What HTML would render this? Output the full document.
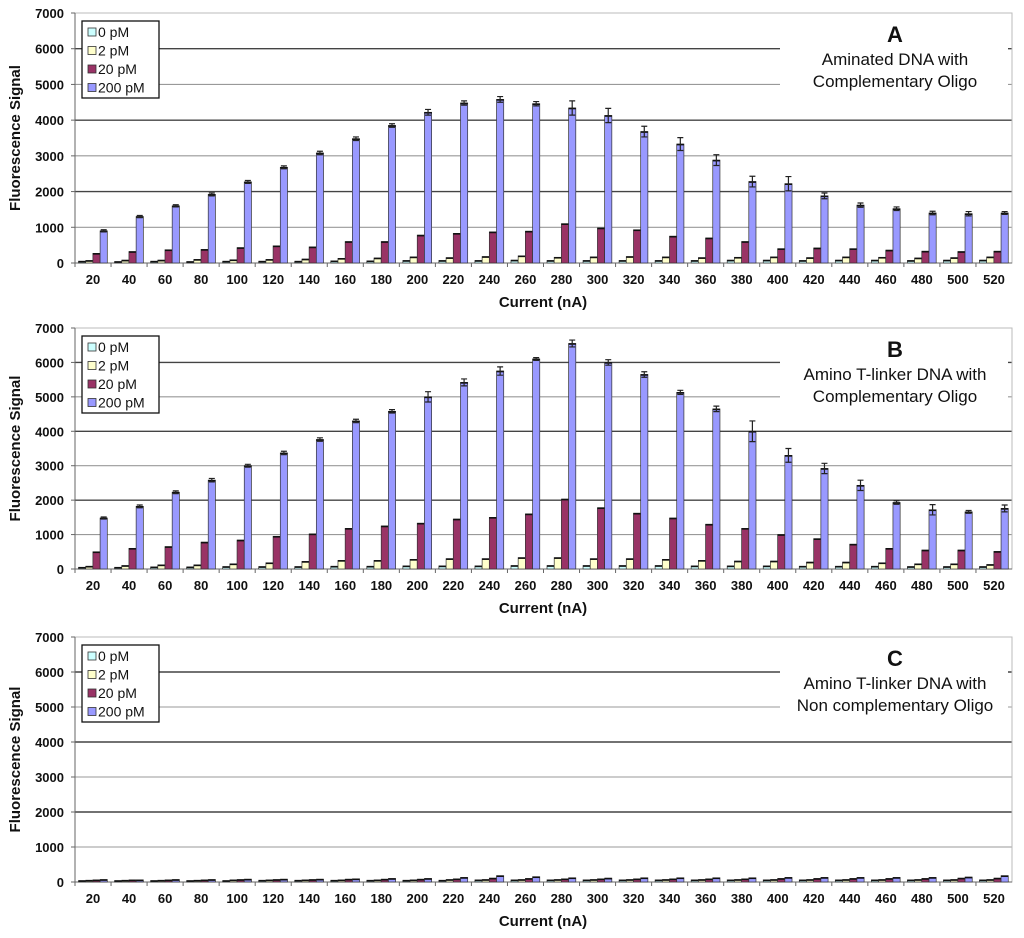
<!DOCTYPE html>
<html><head><meta charset="utf-8"><style>
body{margin:0;background:#fff;}
svg{display:block;font-family:"Liberation Sans",Arial,sans-serif;}
</style></head><body>
<svg id="chart" width="1024" height="938" viewBox="0 0 1024 938"></svg>
<script>
const categories=[20,40,60,80,100,120,140,160,180,200,220,240,260,280,300,320,340,360,380,400,420,440,460,480,500,520];
const seriesNames=["0 pM","2 pM","20 pM","200 pM"];
const yTicks=[0,1000,2000,3000,4000,5000,6000,7000];
// Panel A
const a0=[50,40,50,40,50,50,50,60,60,70,70,70,80,70,70,70,70,70,80,80,70,80,80,70,80,80];
const a2=[70,80,80,100,90,100,110,130,140,170,150,180,200,160,170,180,170,150,160,170,150,170,160,140,150,170];
const a20=[270,320,370,380,430,480,450,600,600,780,830,870,890,1100,980,930,750,700,600,400,420,400,360,330,320,330];
const a200=[900,1300,1600,1920,2270,2680,3080,3480,3850,4220,4480,4580,4460,4340,4130,3680,3330,2880,2280,2220,1880,1620,1520,1400,1380,1400];
const a200err=[30,30,30,40,40,40,50,50,50,80,60,80,60,200,200,150,180,150,150,200,80,60,50,50,60,40];
// Panel B
const b0=[50,50,60,60,70,70,70,80,80,90,90,90,100,100,100,100,100,90,90,90,80,80,80,70,70,70];
const b2=[80,100,120,120,150,180,220,250,250,280,300,300,330,330,300,300,280,250,230,230,200,200,180,150,150,130];
const b20=[500,600,650,780,840,950,1020,1180,1250,1330,1450,1500,1600,2030,1780,1620,1480,1300,1180,1000,880,720,600,550,550,510];
const b200=[1480,1820,2230,2580,3000,3370,3760,4300,4580,5000,5420,5750,6100,6550,6000,5650,5130,4650,4000,3300,2920,2430,1930,1720,1660,1760];
const b200err=[30,40,40,50,40,50,50,50,50,150,100,120,40,100,80,80,60,80,300,200,150,150,50,150,40,100];
// Panel C
const c0=[40,40,40,40,40,50,50,50,50,50,50,60,60,60,60,60,60,60,60,60,60,60,60,60,60,60];
const c2=[50,50,50,50,60,60,60,60,60,60,70,70,70,70,70,70,70,70,70,70,70,70,70,70,70,70];
const c20=[60,60,60,60,70,70,70,80,80,80,90,110,100,90,90,90,90,90,90,100,100,100,100,100,110,110];
const c200=[70,60,70,70,80,80,80,90,100,100,130,180,150,120,110,120,120,120,120,130,130,130,130,130,140,180];

const panels=[
 {id:"a",letter:"A",l1:"Aminated DNA with",l2:"Complementary Oligo",top:13,bot:263,data:[a0,a2,a20,a200],err:a200err},
 {id:"b",letter:"B",l1:"Amino T-linker DNA with",l2:"Complementary Oligo",top:328,bot:569,data:[b0,b2,b20,b200],err:b200err},
 {id:"c",letter:"C",l1:"Amino T-linker DNA with",l2:"Non complementary Oligo",top:637,bot:882,data:[c0,c2,c20,c200],err:null}
];
const colors=["#ccffff","#ffffcc","#993366","#9999ff"];
const X0=75,X1=1012;
const svg=document.getElementById("chart");
const NS="http://www.w3.org/2000/svg";
function mk(tag,attrs,parent){const e=document.createElementNS(NS,tag);for(const k in attrs)e.setAttribute(k,attrs[k]);(parent||svg).appendChild(e);return e;}
const cw=(X1-X0)/categories.length;
const bw=7.2;
function xBand(i){return X0+i*cw;}
panels.forEach(p=>{
 const g=mk("g",{});
 
 
 const y=v=>p.bot-(v/7000)*(p.bot-p.top);
 yTicks.forEach(t=>{
  if(t===0)return;
  const ln=mk("line",{x1:X0,x2:X1,y1:y(t),y2:y(t),stroke:(t%2000===0)?"#444":"#999","stroke-width":(t%2000===0)?1.4:1.1},g);
  
  
 });
 const box=mk("rect",{x:X0,y:p.top,width:X1-X0,height:p.bot-p.top,fill:"none",stroke:"#bbb","stroke-width":1},g);
 
 
 const tb=mk("rect",{x:780,y:p.top+5,width:228,height:76,fill:"#fff"},g);
 
 
 const t1=mk("text",{x:895,y:p.top+29,"text-anchor":"middle","font-size":22,"font-weight":"bold",fill:"#111"},g);t1.textContent=p.letter;
 
 
 const t2=mk("text",{x:895,y:p.top+52,"text-anchor":"middle","font-size":17,fill:"#111"},g);t2.textContent=p.l1;
 
 
 const t3=mk("text",{x:895,y:p.top+74,"text-anchor":"middle","font-size":17,fill:"#111"},g);t3.textContent=p.l2;
 
 
 yTicks.forEach(t=>{
  const tx=mk("text",{x:64,y:y(t)+5,"text-anchor":"end","font-size":13,"font-weight":"bold",fill:"#111"},g);tx.textContent=t;
  
  
  mk("line",{x1:X0-4,x2:X0,y1:y(t),y2:y(t),stroke:"#666"},g);
 });
 mk("line",{x1:X0,x2:X0,y1:p.top,y2:p.bot,stroke:"#666"},g);
 mk("line",{x1:X0,x2:X1,y1:p.bot,y2:p.bot,stroke:"#666"},g);
 const yt=mk("text",{x:0,y:0,transform:`translate(20,${(p.top+p.bot)/2}) rotate(-90)`,"text-anchor":"middle","font-size":15,"font-weight":"bold",fill:"#111"},g);yt.textContent="Fluorescence Signal";
 
 
 categories.forEach((c,i)=>{
  const bx=xBand(i);
  mk("line",{x1:bx,x2:bx,y1:p.bot,y2:p.bot+4,stroke:"#666"},g);
  p.data.forEach((arr,s)=>{
   const x=bx+3.5+s*bw;
   const v=arr[i];
   const r=mk("rect",{x:x,y:y(v),width:bw,height:p.bot-y(v),fill:colors[s],stroke:"#333","stroke-width":0.7},g);
   
   
   mk("line",{x1:x,x2:x+bw,y1:y(v)+0.5,y2:y(v)+0.5,stroke:"#111","stroke-width":1.6},g);
   if(s===3&&p.err){
    const e=p.err[i],cx=x+bw/2;
    const eb=mk("path",{d:`M${cx} ${y(v+e)}V${y(v-e)}M${cx-3} ${y(v+e)}H${cx+3}M${cx-3} ${y(v-e)}H${cx+3}`,stroke:"#222","stroke-width":1.2,fill:"none"},g);
    
    
   }
  });
  const xl=mk("text",{x:bx+cw/2,y:p.bot+21,"text-anchor":"middle","font-size":13,"font-weight":"bold",fill:"#111"},g);xl.textContent=c;
  
  
 });
 const xt=mk("text",{x:543,y:p.bot+44,"text-anchor":"middle","font-size":15,"font-weight":"bold",fill:"#111"},g);xt.textContent="Current (nA)";
 
 
 const lg=mk("g",{},g);
 
 
 const ly=p.top+8;
 mk("rect",{x:82,y:ly,width:77,height:77,fill:"#fff",stroke:"#111","stroke-width":1.3},lg);
 seriesNames.forEach((n,s)=>{
  const en=mk("g",{},lg);
  
  
  const yy=ly+12+s*18.5;
  mk("rect",{x:88,y:yy-5,width:8,height:8,fill:colors[s],stroke:"#333","stroke-width":0.8},en);
  const tx=mk("text",{x:98,y:yy+4,"font-size":14,fill:"#111"},en);tx.textContent=n;
 });
});
</script>
</body></html>
